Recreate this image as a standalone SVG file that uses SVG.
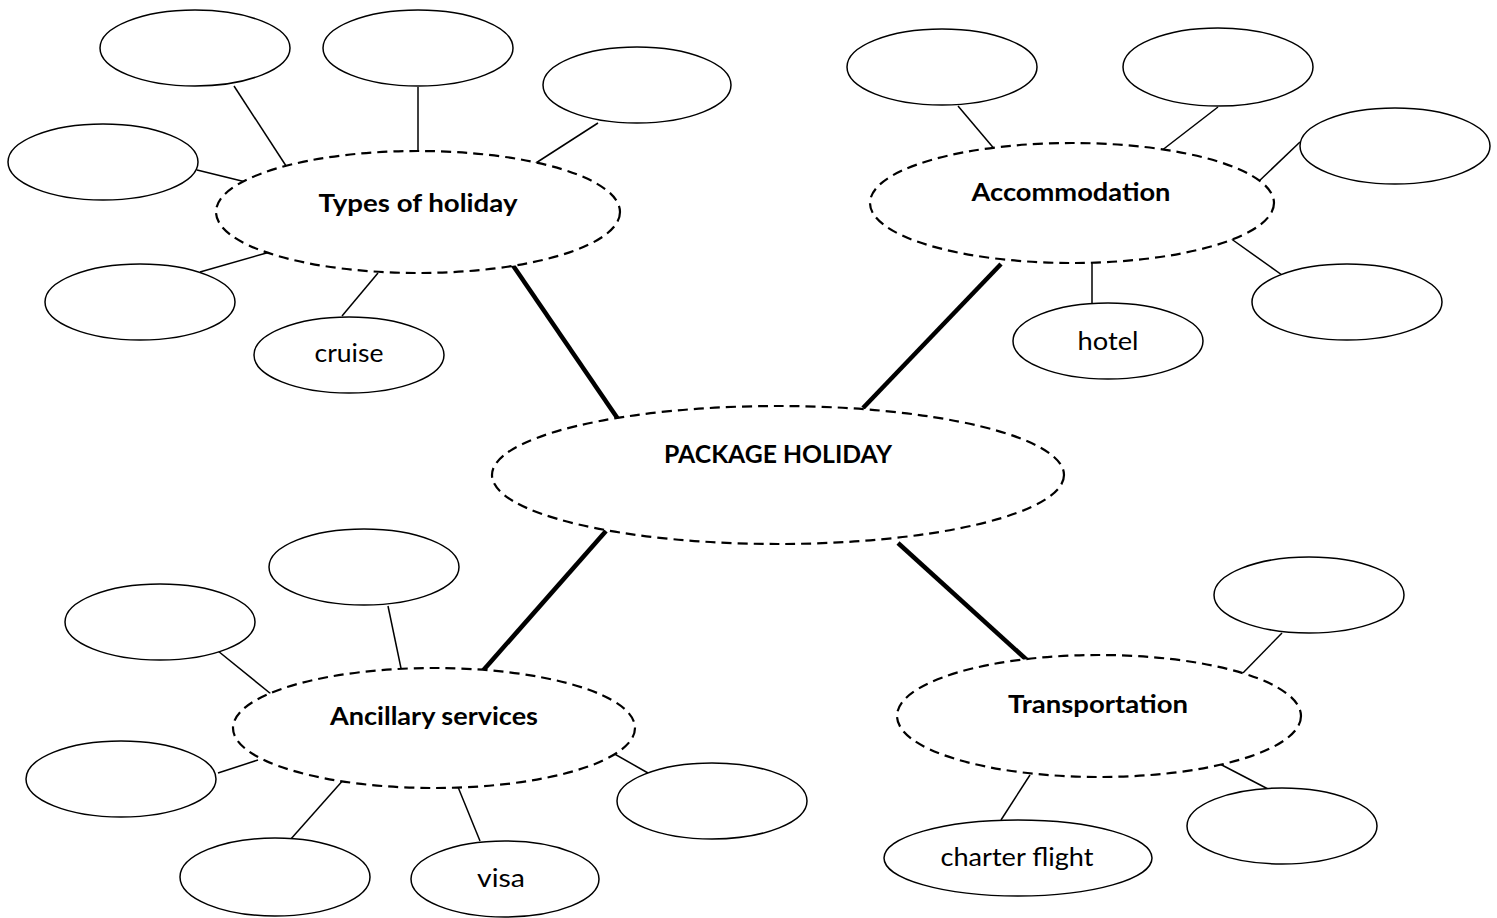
<svg xmlns="http://www.w3.org/2000/svg" width="1497" height="918" viewBox="0 0 1497 918">
<style>
.bg{fill:#fff}
.main{fill:#fff;stroke:#000;stroke-width:2.2;stroke-dasharray:10 6}
.leaf{fill:#fff;stroke:#000;stroke-width:1.5}
.thin{stroke:#000;stroke-width:1.5;fill:none}
.thick{stroke:#000;stroke-width:4.5;fill:none}
.b{font-family:Lato,"Open Sans",sans-serif;font-weight:bold;font-size:25px;text-anchor:middle;fill:#000}
.r{font-family:Lato,"Open Sans",sans-serif;font-size:25px;text-anchor:middle;fill:#000}
</style>
<rect class="bg" width="1497" height="918"/>
<g id="connectors">
<line class="thin" x1="234" y1="86" x2="290" y2="172"/>
<line class="thin" x1="418" y1="87" x2="418" y2="158"/>
<line class="thin" x1="598" y1="123" x2="525" y2="170"/>
<line class="thin" x1="197" y1="170" x2="254" y2="184"/>
<line class="thin" x1="200" y1="272" x2="270" y2="252"/>
<line class="thin" x1="342" y1="316" x2="378" y2="273"/>
<line class="thin" x1="958" y1="106" x2="1002" y2="158"/>
<line class="thin" x1="1218" y1="107" x2="1152" y2="158"/>
<line class="thin" x1="1300" y1="142" x2="1256" y2="184"/>
<line class="thin" x1="1230" y1="238" x2="1282" y2="275"/>
<line class="thin" x1="1092" y1="263" x2="1092" y2="303"/>
<line class="thin" x1="388" y1="606" x2="402" y2="673"/>
<line class="thin" x1="218" y1="651" x2="276" y2="698"/>
<line class="thin" x1="218" y1="773" x2="258" y2="760"/>
<line class="thin" x1="290" y1="840" x2="345" y2="778"/>
<line class="thin" x1="458" y1="787" x2="480" y2="841"/>
<line class="thin" x1="604" y1="748" x2="648" y2="773"/>
<line class="thin" x1="1282" y1="633" x2="1240" y2="676"/>
<line class="thin" x1="1218" y1="763" x2="1268" y2="789"/>
<line class="thin" x1="1030" y1="775" x2="1001" y2="820"/>
<line class="thick" x1="512" y1="264" x2="618" y2="419"/>
<line class="thick" x1="1001" y1="264" x2="863" y2="408"/>
<line class="thick" x1="606" y1="531" x2="480" y2="674"/>
<line class="thick" x1="898" y1="543" x2="1028" y2="661"/>
</g>
<g id="package-holiday"><ellipse class="main" cx="778" cy="475" rx="286" ry="69"/><text class="b" x="778" y="463" textLength="228" lengthAdjust="spacingAndGlyphs">PACKAGE HOLIDAY</text></g>
<g id="types-of-holiday"><ellipse class="main" cx="418" cy="212" rx="202" ry="61"/><text class="b" x="418" y="212" textLength="199" lengthAdjust="spacingAndGlyphs">Types of holiday</text></g>
<g id="accommodation"><ellipse class="main" cx="1072" cy="203" rx="202" ry="60"/><text class="b" x="1071" y="201" textLength="199" lengthAdjust="spacingAndGlyphs">Accommodation</text></g>
<g id="ancillary-services"><ellipse class="main" cx="434" cy="728" rx="201" ry="60"/><text class="b" x="434" y="725" textLength="208" lengthAdjust="spacingAndGlyphs">Ancillary services</text></g>
<g id="transportation"><ellipse class="main" cx="1099" cy="716" rx="202" ry="61"/><text class="b" x="1098" y="713" textLength="180" lengthAdjust="spacingAndGlyphs">Transportation</text></g>
<g id="t1"><ellipse class="leaf" cx="195" cy="48" rx="95" ry="38"/></g>
<g id="t2"><ellipse class="leaf" cx="418" cy="48" rx="95" ry="38"/></g>
<g id="t3"><ellipse class="leaf" cx="637" cy="85" rx="94" ry="38"/></g>
<g id="t4"><ellipse class="leaf" cx="103" cy="162" rx="95" ry="38"/></g>
<g id="t5"><ellipse class="leaf" cx="140" cy="302" rx="95" ry="38"/></g>
<g id="cruise"><ellipse class="leaf" cx="349" cy="355" rx="95" ry="38"/><text class="r" x="349" y="362" textLength="69" lengthAdjust="spacingAndGlyphs">cruise</text></g>
<g id="a1"><ellipse class="leaf" cx="942" cy="67" rx="95" ry="38"/></g>
<g id="a2"><ellipse class="leaf" cx="1218" cy="67" rx="95" ry="39"/></g>
<g id="a3"><ellipse class="leaf" cx="1395" cy="146" rx="95" ry="38"/></g>
<g id="a4"><ellipse class="leaf" cx="1347" cy="302" rx="95" ry="38"/></g>
<g id="hotel"><ellipse class="leaf" cx="1108" cy="341" rx="95" ry="38"/><text class="r" x="1108" y="350" textLength="61" lengthAdjust="spacingAndGlyphs">hotel</text></g>
<g id="s1"><ellipse class="leaf" cx="364" cy="567" rx="95" ry="38"/></g>
<g id="s2"><ellipse class="leaf" cx="160" cy="622" rx="95" ry="38"/></g>
<g id="s3"><ellipse class="leaf" cx="121" cy="779" rx="95" ry="38"/></g>
<g id="s4"><ellipse class="leaf" cx="275" cy="877" rx="95" ry="39"/></g>
<g id="visa"><ellipse class="leaf" cx="505" cy="879" rx="94" ry="38"/><text class="r" x="501" y="887" textLength="48" lengthAdjust="spacingAndGlyphs">visa</text></g>
<g id="s5"><ellipse class="leaf" cx="712" cy="801" rx="95" ry="38"/></g>
<g id="tr1"><ellipse class="leaf" cx="1309" cy="595" rx="95" ry="38"/></g>
<g id="tr2"><ellipse class="leaf" cx="1282" cy="826" rx="95" ry="38"/></g>
<g id="charter-flight"><ellipse class="leaf" cx="1018" cy="858" rx="134" ry="38"/><text class="r" x="1017" y="866" textLength="153" lengthAdjust="spacingAndGlyphs">charter flight</text></g>
</svg>
